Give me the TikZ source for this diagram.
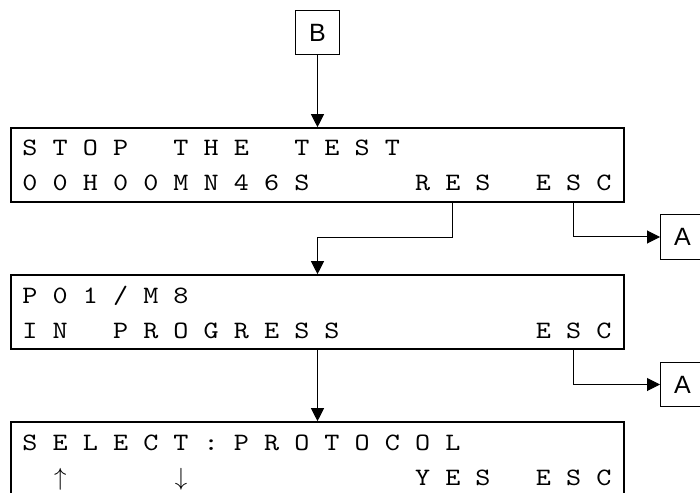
\documentclass[tikz,border=0pt]{standalone}
\usepackage{fontspec}
\newfontfamily\labelfont{Liberation Sans}
\newfontfamily\lcdfont{lmmono10-regular.otf}[FakeStretch=1.15]
\usetikzlibrary{arrows.meta}

% one row of the 20 column display, cells 30.2bp apart
\newcommand{\lcdrow}[3]{%
  \foreach \ch [count=\i from 0] in {#3}
    \node[lcdchar] (#1-\i) at (30+30.2*\i, #2) {\ch};
}

\begin{document}
\begin{tikzpicture}[x=1bp, y=-1bp,
    lcd/.style={draw, line width=1.6bp, minimum width=613bp, minimum height=74bp, inner sep=0pt},
    lcdchar/.style={anchor=base, inner sep=0pt, font=\fontsize{25bp}{25bp}\selectfont\lcdfont},
    jump/.style={draw, line width=1bp, minimum size=44bp, inner sep=0pt, font=\fontsize{25bp}{25bp}\selectfont\labelfont},
    conn/.style={line width=1bp, -{Triangle[length=13bp, width=13bp]}}]
  \clip (0,0) rectangle (700,493);

  \node[jump] (B) at (317.5,32.5) {B};
  \node[jump] (A1) at (682.5,237) {A};
  \node[jump] (A2) at (682.5,384.5) {A};

  \node[lcd] (lcd1) at (317.5,165) {};
  \node[lcd] (lcd2) at (317.5,312) {};
  \node[lcd] (lcd3) at (317.5,459) {};

  \lcdrow{s1}{156}{S,T,O,P, ,T,H,E, ,T,E,S,T}
  \lcdrow{s2}{191}{0,0,H,0,0,M,N,4,6,S, , , ,R,E,S, ,E,S,C}
  \lcdrow{p1}{303}{P,0,1,/,M,8}
  \lcdrow{p2}{338}{I,N, ,P,R,O,G,R,E,S,S, , , , , , ,E,S,C}
  \lcdrow{c1}{450}{S,E,L,E,C,T,:,P,R,O,T,O,C,O,L}
  \lcdrow{c2}{485}{ ,$\uparrow$, , , ,$\downarrow$, , , , , , , ,Y,E,S, ,E,S,C}

  \draw[conn] (B) -- (lcd1);
  \draw[conn] (lcd1.south -| s2-14) -- ++(0,35) -| (lcd2);
  \draw[conn] (lcd1.south -| s2-18) |- (A1);
  \draw[conn] (lcd2) -- (lcd3);
  \draw[conn] (lcd2.south -| p2-18) |- (A2);
\end{tikzpicture}
\end{document}
